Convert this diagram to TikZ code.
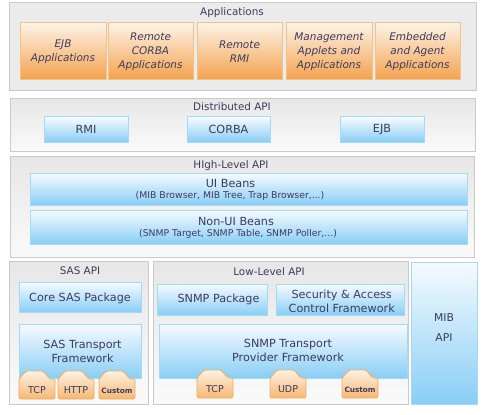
\documentclass[tikz,border=0pt]{standalone}
\usepackage{fontspec}
\setmainfont{DejaVu Sans}
\definecolor{ink}{HTML}{3D3B5E}
\definecolor{grayline}{HTML}{CACACA}
\definecolor{graytop}{HTML}{E7E7E7}
\definecolor{graybot}{HTML}{FAFAFA}
\definecolor{appgray}{HTML}{EBEBEB}
\definecolor{blueline}{HTML}{A3DBF7}
\definecolor{bluetop}{HTML}{F6FBFE}
\definecolor{bluemid}{HTML}{C6E8FB}
\definecolor{bluebot}{HTML}{89CEF6}
\definecolor{orline}{HTML}{F5C184}
\definecolor{ortop}{HTML}{FDF3E7}
\definecolor{ormid}{HTML}{FAD9B4}
\definecolor{orbot}{HTML}{F3A14C}
\definecolor{tabline}{HTML}{F0AE62}
\definecolor{tabtop}{HTML}{FDF2E4}
\definecolor{tabbot}{HTML}{F6B772}
\newcommand\mytab[4]{%
  \path[tabshape] (#1,#2+28) -- (#1,#2+8) -- (#1+7,#2) -- (#1+24,#2) -- (#1+31,#2+8) -- (#1+36,#2+8) -- (#1+36,#2+28) -- cycle;
  \node[txt] (#3) at (#1+18,#2+19.5) {#4};}
\begin{document}
\begin{tikzpicture}[x=1pt,y=-1pt,
  base/.style={anchor=north west,inner sep=0pt,outer sep=0pt,line width=1pt},
  graybox/.style={base,draw=grayline,top color=graytop,bottom color=graybot},
  appbox/.style={base,draw=grayline,fill=appgray},
  bluebox/.style={base,draw=blueline,top color=bluetop,middle color=bluemid,bottom color=bluebot},
  orbox/.style={base,draw=orline,top color=ortop,middle color=ormid,bottom color=orbot,
     text=ink,align=center,font=\fontsize{10.5}{14}\selectfont\itshape},
  tabshape/.style={draw=tabline,line width=0.9pt,rounded corners=1.5pt,top color=tabtop,bottom color=tabbot},
  txt/.style={inner sep=0pt,text=ink,align=center},
  title/.style={txt,font=\fontsize{10.4}{13}\selectfont},
  big/.style={txt,font=\fontsize{11.2}{14}\selectfont},
  small/.style={txt,font=\fontsize{9.3}{12}\selectfont},
  tabtxt/.style={txt,font=\fontsize{9.5}{11}\selectfont},
  custxt/.style={txt,font=\fontsize{7.3}{9}\selectfont\bfseries}]
\useasboundingbox (0,0) rectangle (486,414);
\fill[white] (0,0) rectangle (486,414);
% Applications
\node[appbox,minimum width=466.5pt,minimum height=88pt] (apps) at (9.5,3) {};
\node[title] (appsT) at (232,13) {Applications};
\node[orbox,minimum width=86pt,minimum height=57pt] (ejbapp) at (20,23) {EJB\\Applications};
\node[orbox,minimum width=85pt,minimum height=57pt] (corbaapp) at (108,23) {Remote\\CORBA\\Applications};
\node[orbox,minimum width=85pt,minimum height=57pt] (rmiapp) at (197,23) {Remote\\RMI};
\node[orbox,minimum width=86pt,minimum height=57pt] (mgmtapp) at (286,23) {Management\\Applets and\\Applications};
\node[orbox,minimum width=85pt,minimum height=57pt] (embapp) at (375,23) {Embedded\\and Agent\\Applications};
% Distributed API
\node[graybox,minimum width=465pt,minimum height=52pt] (dist) at (10,99) {};
\node[title] (distT) at (232,107) {Distributed API};
\node[bluebox,minimum width=84pt,minimum height=25pt] (rmi) at (44,117) {};
\node[big] (rmiT) at (rmi.center) {RMI};
\node[bluebox,minimum width=83pt,minimum height=25pt] (corba) at (187,117) {};
\node[big] (corbaT) at (corba.center) {CORBA};
\node[bluebox,minimum width=84pt,minimum height=25pt] (ejb) at (340,117) {};
\node[big] (ejbT) at (ejb.center) {EJB};
% High-Level API
\node[graybox,minimum width=464pt,minimum height=101pt] (high) at (10,156) {};
\node[title] (highT) at (231,166) {HIgh-Level API};
\node[bluebox,minimum width=437pt,minimum height=32pt] (ui) at (30,173) {};
\node[big] (uiT) at (230.5,183) {UI Beans};
\node[small] (uiS) at (230,196) {(MIB Browser, MIB Tree, Trap Browser,...)};
\node[bluebox,minimum width=437pt,minimum height=34pt] (nonui) at (30,210) {};
\node[big] (nonuiT) at (236,221) {Non-UI Beans};
\node[small] (nonuiS) at (238,234) {(SNMP Target, SNMP Table, SNMP Poller,...)};
% SAS API
\node[graybox,minimum width=139pt,minimum height=143pt] (sas) at (9,261) {};
\node[title] (sasT) at (80,271) {SAS API};
\node[bluebox,minimum width=122pt,minimum height=30pt] (core) at (19,282) {};
\node[big] (coreT) at (80,298) {Core SAS Package};
\node[bluebox,minimum width=122pt,minimum height=54pt] (sastr) at (19,324) {};
\node[big] (sastrT) at (82.5,351) {SAS Transport\\Framework};
\mytab{19}{371}{sastcp}{\fontsize{9.5}{11}\selectfont TCP}
\mytab{58}{371}{sashttp}{\fontsize{9.5}{11}\selectfont HTTP}
\mytab{99}{371}{sascust}{\fontsize{7.3}{9}\selectfont\bfseries Custom}
% Low-Level API
\node[graybox,minimum width=255pt,minimum height=143pt] (low) at (153,261) {};
\node[title] (lowT) at (269,272) {Low-Level API};
\node[bluebox,minimum width=110pt,minimum height=31pt] (pkg) at (157,284) {};
\node[big] (pkgT) at (218.5,299) {SNMP Package};
\node[bluebox,minimum width=128pt,minimum height=31pt] (sec) at (276,284) {};
\node[big] (secT) at (341.7,301) {Security \& Access\\Control Framework};
\node[bluebox,minimum width=248pt,minimum height=54pt] (snmptr) at (159,324) {};
\node[big] (snmptrT) at (288,350) {SNMP Transport\\Provider Framework};
\mytab{197}{370}{lowtcp}{\fontsize{9.5}{11}\selectfont TCP}
\mytab{270}{370}{lowudp}{\fontsize{9.5}{11}\selectfont UDP}
\mytab{342}{370}{lowcust}{\fontsize{7.3}{9}\selectfont\bfseries Custom}
% MIB API
\node[bluebox,minimum width=66pt,minimum height=142pt] (mib) at (411,262) {};
\node[big,font=\fontsize{10.8}{20}\selectfont] (mibT) at (444,328) {MIB\\API};
\end{tikzpicture}
\end{document}
